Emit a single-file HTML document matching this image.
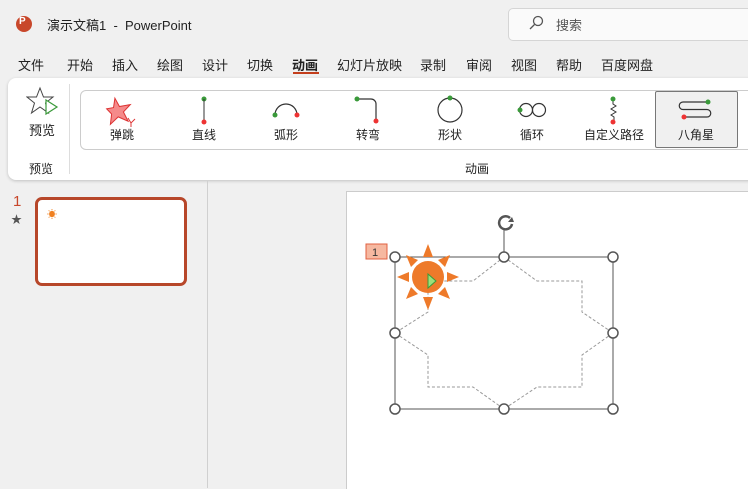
<!DOCTYPE html>
<html><head><meta charset="utf-8"><style>
body{margin:0;width:748px;height:488px;overflow:hidden;background:#f0f0f0;font-family:"Liberation Sans","Noto Sans CJK SC",sans-serif;position:relative;color:#222}
.a{position:absolute;white-space:nowrap}
.tab{font-size:13px;top:55px}
.lab{font-size:12px;top:126px;transform:translateX(-50%)}
</style></head><body>
<div class="a" style="left:16px;top:16px;width:16px;height:16px;border-radius:50%;background:#c8472b"></div>
<div class="a" style="left:19px;top:16px;font-size:10px;color:#fff;font-weight:bold">P</div>
<div class="a" style="left:47px;top:15px;font-size:13px">演示文稿1 &nbsp;- &nbsp;PowerPoint</div>
<div class="a" style="left:508px;top:8px;width:250px;height:31px;border:1px solid #d5d5d5;border-radius:5px;background:#fafafa"></div>
<svg class="a" style="left:528px;top:15px" width="16" height="16"><circle cx="10" cy="6" r="4.5" fill="none" stroke="#555" stroke-width="1.3"/><line x1="6.5" y1="9.5" x2="2" y2="14" stroke="#555" stroke-width="1.3"/></svg>
<div class="a" style="left:556px;top:15px;font-size:13px;color:#555">搜索</div>
<div class="a tab" style="left:18px">文件</div><div class="a tab" style="left:67px">开始</div><div class="a tab" style="left:112px">插入</div><div class="a tab" style="left:157px">绘图</div><div class="a tab" style="left:202px">设计</div><div class="a tab" style="left:247px">切换</div><div class="a tab" style="left:292px;font-weight:bold">动画</div><div class="a tab" style="left:337px">幻灯片放映</div><div class="a tab" style="left:420px">录制</div><div class="a tab" style="left:466px">审阅</div><div class="a tab" style="left:511px">视图</div><div class="a tab" style="left:556px">帮助</div><div class="a tab" style="left:601px">百度网盘</div>
<div class="a" style="left:293px;top:72px;width:26px;height:2px;background:#c43e1c"></div>
<div class="a" style="left:8px;top:78px;width:760px;height:102px;background:#fff;border-radius:8px;box-shadow:0 1px 3px rgba(0,0,0,.2)"></div>
<svg class="a" style="left:26px;top:86px" width="34" height="32"><polygon points="14,2 17.5,11 27,11 19.5,17 22.5,27 14,21 5.5,27 8.5,17 1,11 10.5,11" fill="#fff" stroke="#444"/><polygon points="20,14 31,21 20,28" fill="#fff" stroke="#3a9a3a" stroke-width="1.2"/></svg>
<div class="a" style="left:29px;top:120px;font-size:13px">预览</div>
<div class="a" style="left:38px;top:134px;font-size:10px">ˇ</div>
<div class="a" style="left:29px;top:160px;font-size:12px">预览</div>
<div class="a" style="left:69px;top:84px;width:1px;height:90px;background:#ddd"></div>
<div class="a" style="left:80px;top:90px;width:680px;height:58px;border:1px solid #ccc;border-radius:6px"></div>
<div class="a" style="left:655px;top:91px;width:81px;height:55px;background:#f0f0f0;border:1px solid #777;border-radius:2px"></div>
<svg class="a" style="left:0;top:90px" width="748" height="40">
<polygon points="117,8 120,17 131,17 123,23 126,33 117,27 108,33 111,23 107,17 114,17" fill="#f58a8a" stroke="#d33" transform="rotate(-10 117 20)"/>
<path d="M128,28 l3,5 l4,-4 M131,33 l0,4" stroke="#d33" fill="none"/>
<circle cx="204" cy="9" r="2.5" fill="#3a9a3a"/><line x1="204" y1="9" x2="204" y2="32" stroke="#333"/><circle cx="204" cy="32" r="2.5" fill="#e33"/>
<path d="M275,25 a11,11 0 0 1 22,0" fill="none" stroke="#333" stroke-width="1.2"/><circle cx="275" cy="25" r="2.5" fill="#3a9a3a"/><circle cx="297" cy="25" r="2.5" fill="#e33"/>
<path d="M357,9 h14 a5,5 0 0 1 5,5 v17" fill="none" stroke="#333" stroke-width="1.2"/><circle cx="357" cy="9" r="2.5" fill="#3a9a3a"/><circle cx="376" cy="31" r="2.5" fill="#e33"/>
<circle cx="450" cy="20" r="12" fill="none" stroke="#333" stroke-width="1.2"/><circle cx="450" cy="8" r="2.5" fill="#3a9a3a"/>
<circle cx="526" cy="20" r="6.5" fill="none" stroke="#333" stroke-width="1.2"/><circle cx="539" cy="20" r="6.5" fill="none" stroke="#333" stroke-width="1.2"/><circle cx="520" cy="20" r="2.5" fill="#3a9a3a"/>
<path d="M613,9 v5 l3,2 l-5,3 l5,3 l-5,3 l3,2 v5" fill="none" stroke="#333"/><circle cx="613" cy="9" r="2.5" fill="#3a9a3a"/><circle cx="613" cy="32" r="2.5" fill="#e33"/>
<path d="M707,12 h-24 a3.75,3.75 0 0 0 0,7.5 h24 a3.75,3.75 0 0 1 0,7.5 h-24" fill="none" stroke="#333" stroke-width="1.2"/><circle cx="708" cy="12" r="2.5" fill="#3a9a3a"/><circle cx="684" cy="27" r="2.5" fill="#e33"/>
</svg>
<div class="a lab" style="left:122px">弹跳</div><div class="a lab" style="left:204px">直线</div><div class="a lab" style="left:286px">弧形</div><div class="a lab" style="left:368px">转弯</div><div class="a lab" style="left:450px">形状</div><div class="a lab" style="left:532px">循环</div><div class="a lab" style="left:614px">自定义路径</div><div class="a lab" style="left:696px">八角星</div>
<div class="a" style="left:465px;top:160px;font-size:12px">动画</div>
<div class="a" style="left:207px;top:181px;width:1px;height:307px;background:#d0d0d0"></div>
<div class="a" style="left:13px;top:193px;font-size:15px;color:#c8472b">1</div>
<div class="a" style="left:11px;top:211px;font-size:11px;color:#555">★</div>
<div class="a" style="left:35px;top:197px;width:146px;height:83px;border:3px solid #b7472a;border-radius:7px;background:#fff"></div>
<div class="a" style="left:47px;top:206px;font-size:10px;color:#f08020">☀</div>
<div class="a" style="left:346px;top:191px;width:402px;height:297px;background:#fff;border-left:1px solid #ccc;border-top:1px solid #ccc"></div>
<svg class="a" style="left:0;top:0" width="748" height="488">
<polygon points="504,257 537,281 582,281 582,312 613,333 582,355 582,387 537,387 504,409 473,387 428,387 428,355 395,333 428,312 428,281 473,281" fill="none" stroke="#999" stroke-dasharray="3,2"/>
<rect x="395" y="257" width="218" height="152" fill="none" stroke="#555"/>
<line x1="504" y1="230" x2="504" y2="257" stroke="#555"/>
<path d="M510,218 a6.5,6.5 0 1 0 2,6" fill="none" stroke="#555" stroke-width="2.5"/><path d="M508,222 l6,0 l-2,-5" fill="#555"/>
<g fill="#fff" stroke="#555" stroke-width="1.5">
<circle cx="395" cy="257" r="5"/><circle cx="504" cy="257" r="5"/><circle cx="613" cy="257" r="5"/><circle cx="395" cy="333" r="5"/><circle cx="613" cy="333" r="5"/><circle cx="395" cy="409" r="5"/><circle cx="504" cy="409" r="5"/><circle cx="613" cy="409" r="5"/></g>
<rect x="366" y="244" width="21" height="15" fill="#f6b8a0" stroke="#e06040"/>
<text x="372" y="256" font-size="11" fill="#333" font-family="Liberation Sans">1</text>
<g fill="#ee7a2a" transform="translate(428,277)">
<polygon points="0,-33 5,-20 -5,-20"/><polygon points="0,33 5,20 -5,20"/><polygon points="-31,0 -19,5 -19,-5"/><polygon points="31,0 19,5 19,-5"/>
<polygon points="-22,-22 -10,-17 -17,-10"/><polygon points="22,-22 10,-17 17,-10"/><polygon points="-22,22 -10,17 -17,10"/><polygon points="22,22 10,17 17,10"/>
<circle r="16"/></g>
<polygon points="428,274 436,281 428,288" fill="#9de07a" stroke="#3a9a3a"/>
</svg>
</body></html>
